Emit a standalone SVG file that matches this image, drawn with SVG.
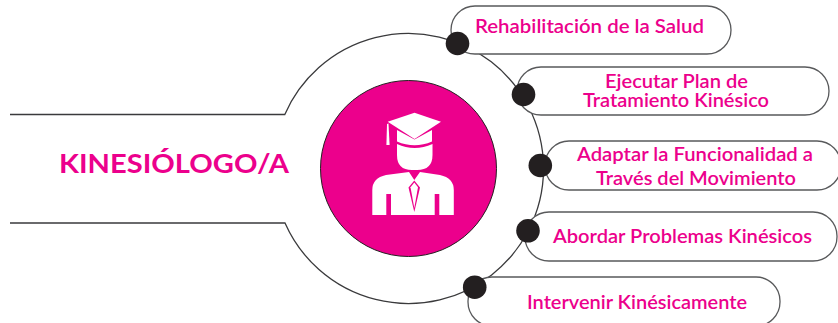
<svg xmlns="http://www.w3.org/2000/svg" width="838" height="323" viewBox="0 0 838 323">
<style>
.pill{fill:#fff;stroke:#58595b;stroke-width:1.3}
.dot{fill:#231f20}
.conn{fill:none;stroke:#3a3a3c;stroke-width:1.3}
.t{font-family:"Lato","Liberation Sans",sans-serif;font-size:18.5px;font-weight:600;fill:#ec008c}
.h{font-family:"Lato","Liberation Sans",sans-serif;font-size:27px;font-weight:700;fill:#ec008c}
.w{fill:#fff}
</style>
<rect width="838" height="323" fill="#fff"/>
<g id="connectors">
<path class="conn" d="M10,114.5H284.8A135,135 0 1 1 285,223H10"/>
</g>
<g id="title"><text class="h" x="59" y="173" textLength="230" lengthAdjust="spacingAndGlyphs">KINESIÓLOGO/A</text></g>
<g id="center">
<circle cx="408.5" cy="168.5" r="88" fill="#ec008c" stroke="#231f20" stroke-width="1"/>
<path class="w" d="M387.7,121.7L414.5,112.7L441,121.7L414.5,139Z"/>
<path class="w" d="M397,130L414.5,139.5L432,130V141.5Q414.5,149 397,141.5Z"/>
<path class="w" d="M387,124L388.5,123.5L389.6,145H386.4Z"/>
<path class="w" d="M397,144Q414.5,152 432.5,144V155Q432.5,170 417,170H412Q397,170 397,155Z"/>
<path class="w" d="M372.3,215V190Q372.3,178 386,175L409,172L414.3,180L420,172L440,175Q453.8,178 453.8,190V215H439.3V194H434.7V215H391V194H386.3V215Z"/>
<path d="M408.5,187.5L414.3,180.5L420,187.5L414.3,212Z" fill="#ec008c"/>
<path class="w" d="M410.5,187.3L414.3,182.5L418,187.3L414.3,208Z"/>
</g>
<g id="node-1">
<rect class="pill" x="451" y="6" width="280" height="48" rx="24"/>
<circle class="dot" cx="457.5" cy="43.5" r="11.8"/>
<text class="t" x="475" y="33" textLength="229" lengthAdjust="spacingAndGlyphs">Rehabilitación de la Salud</text>
</g>
<g id="node-2">
<rect class="pill" x="517" y="67" width="312" height="48" rx="24"/>
<circle class="dot" cx="523.5" cy="94.5" r="11.8"/>
<text class="t" x="605" y="88" textLength="143" lengthAdjust="spacingAndGlyphs">Ejecutar Plan de</text>
<text class="t" x="583" y="107" textLength="186" lengthAdjust="spacingAndGlyphs">Tratamiento Kinésico</text>
</g>
<g id="node-3">
<rect class="pill" x="545" y="141" width="296" height="49" rx="24"/>
<circle class="dot" cx="540.3" cy="165.5" r="11.8"/>
<text class="t" x="577" y="161" textLength="236" lengthAdjust="spacingAndGlyphs">Adaptar la Funcionalidad a</text>
<text class="t" x="596" y="185" textLength="200" lengthAdjust="spacingAndGlyphs">Través del Movimiento</text>
</g>
<g id="node-4">
<rect class="pill" x="525" y="212" width="312" height="49" rx="24"/>
<circle class="dot" cx="528" cy="230.8" r="11.8"/>
<text class="t" x="553" y="243" textLength="259" lengthAdjust="spacingAndGlyphs">Abordar Problemas Kinésicos</text>
</g>
<g id="node-5">
<rect class="pill" x="468" y="277" width="312" height="49" rx="24"/>
<circle class="dot" cx="474.7" cy="287.2" r="11.8"/>
<text class="t" x="527" y="309" textLength="220" lengthAdjust="spacingAndGlyphs">Intervenir Kinésicamente</text>
</g>
</svg>
